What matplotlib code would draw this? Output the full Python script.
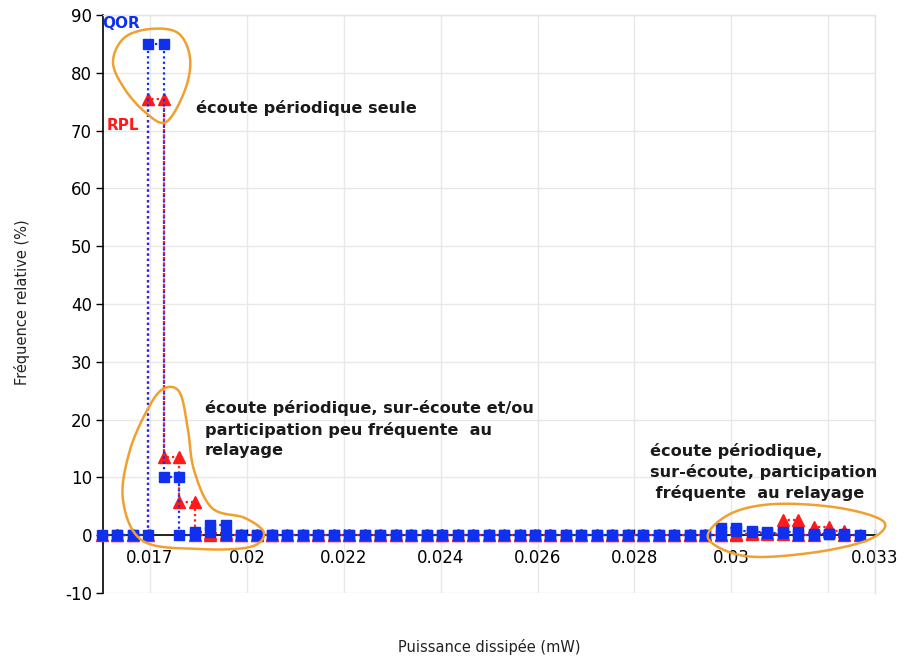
import numpy as np
import matplotlib
matplotlib.use("Agg")
import matplotlib.pyplot as plt
from matplotlib.patches import Polygon
from matplotlib.transforms import Affine2D

# ---- data -------------------------------------------------------------
# bin edges of dissipated power (mW)
edges = [0.016452, 0.016779, 0.017107, 0.017434, 0.017761, 0.018088, 0.018416,
         0.018743, 0.019070, 0.019398, 0.019725, 0.020052, 0.020379, 0.020707,
         0.021034, 0.021361, 0.021688, 0.022016, 0.022343, 0.022670, 0.022998,
         0.023325, 0.023652, 0.023979, 0.024307, 0.024634, 0.024961, 0.025289,
         0.025616, 0.025943, 0.026270, 0.026598, 0.026925, 0.027252, 0.027580,
         0.027907, 0.028234, 0.028561, 0.028889, 0.029216, 0.029543, 0.029870,
         0.030198, 0.030525, 0.030852, 0.031180, 0.031507, 0.031834, 0.032161,
         0.032489]
# relative frequency (%) per bin
qor = [0, 0, 0, 85, 10, 0, 0.5, 1.8, 0, 0,
       0, 0, 0, 0, 0, 0, 0, 0, 0, 0,
       0, 0, 0, 0, 0, 0, 0, 0, 0, 0,
       0, 0, 0, 0, 0, 0, 0, 0, 0, 0,
       1.3, 0.8, 0.5, 0.4, 0.6, 0, 0.2, 0.2, 0]
rpl = [0, 0, 0, 75.5, 13.5, 5.8, 0, 0.3, 0, 0,
       0, 0, 0, 0, 0, 0, 0, 0, 0, 0,
       0, 0, 0, 0, 0, 0, 0, 0, 0, 0,
       0, 0, 0, 0, 0, 0, 0, 0, 0, 0,
       0, 0.2, 0.3, 0.2, 2.6, 0, 1.4, 0.7, 0]

xtick_pos = [0.01747, 0.01952, 0.02157, 0.02362, 0.02567, 0.02772, 0.02977, 0.03182, 0.032808]
xtick_lab = ["0.017", "0.02", "0.022", "0.024", "0.026", "0.028", "0.03", "", "0.033"]
yticks = [-10, 0, 10, 20, 30, 40, 50, 60, 70, 80, 90]
ytick_lab = ["-10", "0", "10", "20", "30", "40", "50", "60", "70", "80", "90"]

xlim = (0.016476, 0.032808)
ylim = (-10, 90)

# ---- figure ------------------------------------------------------------
W, H = 905, 660
fig = plt.figure(figsize=(W / 100, H / 100), dpi=100)
fig.patch.set_facecolor("white")
ax = fig.add_axes([103 / W, 1 - 593 / H, (875 - 103) / W, (593 - 15) / H])
ax.set_xlim(*xlim)
ax.set_ylim(*ylim)


def outline(e, v):
    xs, ys = [], []
    for k, val in enumerate(v):
        xs += [e[k], e[k + 1]]
        ys += [val, val]
    return xs, ys


rx, ry = outline(edges, rpl)
qx, qy = outline(edges, qor)
ax.plot(rx, ry, color="#ff1a1a", ls=(0, (1, 1.4)), lw=1.6, marker="^",
        ms=8, mec="#ff1a1a", mfc="#ff1a1a", clip_on=False, zorder=4)
ax.plot(qx, qy, color="#1030f0", ls=(0, (1, 1.4)), lw=1.6, marker="s",
        ms=6.5, mec="#1030f0", mfc="#1030f0", clip_on=False, zorder=5)

# axes styling
ax.spines["bottom"].set_position(("data", 0))
ax.spines["bottom"].set_color("black")
ax.spines["bottom"].set_linewidth(1.2)
ax.spines["left"].set_color("black")
ax.spines["left"].set_linewidth(1.2)
for s in ("top", "right"):
    ax.spines[s].set_color("#e4e4e4")
    ax.spines[s].set_linewidth(1.0)

ax.set_xticks(xtick_pos)
ax.set_xticklabels(xtick_lab)
ax.set_yticks(yticks)
ax.set_yticklabels(ytick_lab)
ax.tick_params(axis="x", direction="in", length=4, width=1, pad=10,
               labelsize=12, colors="black")
ax.tick_params(axis="y", direction="out", length=5, width=1, pad=3,
               labelsize=12, colors="black")
ax.grid(True, color="#e8e8e8", lw=1.0, zorder=0)
ax.set_axisbelow(True)

fig.text(22 / W, 1 - 302 / H, "Fréquence relative (%)", rotation=90,
         ha="center", va="center", fontsize=10.5, color="#222222")
fig.text(489 / W, 1 - 647 / H, "Puissance dissipée (mW)",
         ha="center", va="center", fontsize=10.5, color="#222222")

# series names
fig.text(102 / W, 1 - 23 / H, "QOR", color="#1030f0", fontsize=11,
         fontweight="bold", ha="left", va="center")
fig.text(107 / W, 1 - 125 / H, "RPL", color="#ff1a1a", fontsize=11,
         fontweight="bold", ha="left", va="center")

# annotation texts
tc = "#1a1a1a"
fs = 11.6
fig.text(196 / W, 1 - 108 / H, "écoute périodique seule", fontsize=fs,
         fontweight="bold", color=tc, ha="left", va="center")
fig.text(205 / W, 1 - 429 / H,
         "écoute périodique, sur-écoute et/ou\nparticipation peu fréquente  au\nrelayage",
         fontsize=fs, fontweight="bold", color=tc, ha="left", va="center",
         linespacing=1.4)
fig.text(650 / W, 1 - 472 / H,
         "écoute périodique,\nsur-écoute, participation\n fréquente  au relayage",
         fontsize=fs, fontweight="bold", color=tc, ha="left", va="center",
         linespacing=1.4)

# hand-drawn orange loops (pixel coordinates)
T = Affine2D().scale(1 / W, -1 / H).translate(0, 1) + fig.transFigure


def closed_spline(pts, n=24):
    p = np.asarray(pts, float)
    m = len(p)
    out = []
    for i in range(m):
        p0, p1, p2, p3 = p[(i - 1) % m], p[i], p[(i + 1) % m], p[(i + 2) % m]
        for t in np.linspace(0, 1, n, endpoint=False):
            t2, t3 = t * t, t * t * t
            out.append(0.5 * ((2 * p1) + (-p0 + p2) * t +
                              (2 * p0 - 5 * p1 + 4 * p2 - p3) * t2 +
                              (-p0 + 3 * p1 - 3 * p2 + p3) * t3))
    return np.array(out)


loop_top = [(113, 62), (124, 38), (150, 29), (178, 33), (190, 58), (185, 90),
            (166, 122), (145, 112), (124, 88)]
loop_mid = [(165, 388), (180, 393), (188, 430), (194, 470), (212, 508),
            (245, 518), (264, 533), (250, 547), (200, 549), (143, 541),
            (123, 500), (130, 450), (150, 405)]
loop_right = [(708, 538), (730, 514), (775, 504), (840, 508), (884, 522),
              (868, 540), (810, 553), (745, 556)]
for pts in (loop_top, loop_mid, loop_right):
    poly = Polygon(closed_spline(pts), closed=True, fill=False,
                   edgecolor="#f0a030", lw=1.8, transform=T, zorder=10)
    fig.add_artist(poly)

fig.savefig("out.png", dpi=100, facecolor="white")
